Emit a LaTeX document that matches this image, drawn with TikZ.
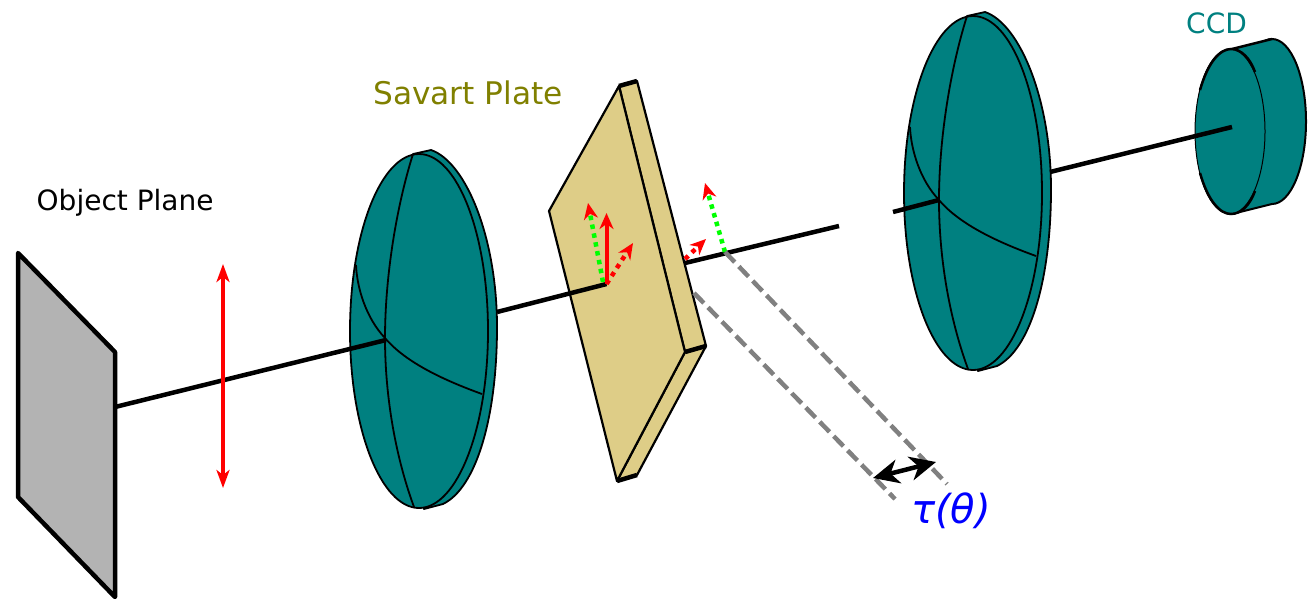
\documentclass[tikz,border=0pt]{standalone}
\usepackage{fontspec}
\setmainfont{DejaVu Sans}
\usetikzlibrary{arrows.meta}
\definecolor{tealc}{HTML}{008080}
\definecolor{olivec}{HTML}{808000}
\definecolor{platec}{HTML}{DECD87}
\definecolor{planec}{HTML}{B3B3B3}
\definecolor{grayc}{HTML}{808080}
\definecolor{greenc}{HTML}{00FF00}
\definecolor{bluec}{HTML}{0000FF}
\tikzset{
  lensbody/.style={fill=tealc,draw=black,line width=1.8pt,line join=round},
  lensline/.style={draw=black,line width=1.8pt},
  platebody/.style={fill=platec,draw=black,line width=2.2pt,line join=round},
  plateedge/.style={draw=black,line width=4.5pt},
  axisline/.style={draw=black,line width=4.5pt},
  redtip/.style={-{Stealth[length=16pt,width=14pt,inset=5pt,color=red]}},
  redray/.style={redtip,draw=red,line width=4pt},
  reddot/.style={redtip,draw=red,line width=4.5pt,dash pattern=on 4.5pt off 5pt},
  greendot/.style={redtip,draw=greenc,line width=4.5pt,dash pattern=on 4.5pt off 4.5pt},
  gapline/.style={draw=grayc,line width=4.5pt,dash pattern=on 14pt off 6pt},
  label/.style={inner sep=0pt,anchor=base west}
}
\newcommand{\lensdisc}[1]{%
  \begin{scope}[shift={#1}]
    \path[lensbody] (967,16) -- (985,12) .. controls (1020,24) and (1051,100) .. (1051,189) .. controls (1051,280) and (1030,350) .. (997,366) -- (978,371) -- cycle;
    \path[lensbody] (973,193) ellipse [x radius=69,y radius=177];
    \draw[lensline] (967,16) .. controls (950,70) and (939,140) .. (939,200) .. controls (939,260) and (950,320) .. (968,369);
    \draw[lensline] (910,127) .. controls (911,150) and (920,180) .. (939,200) .. controls (960,225) and (1000,243) .. (1036,256);
  \end{scope}}
\begin{document}
\begin{tikzpicture}[x=1pt,y=-1pt]
\useasboundingbox (0,0) rectangle (1313,598);
\coordinate (a0) at (115,407);
\coordinate (a1) at (386,340);
\coordinate (a2) at (497,312);
\coordinate (a3) at (606.5,284);
\coordinate (a4) at (685,263);
\coordinate (a5) at (839,226);
\coordinate (a6) at (893,212);
\coordinate (a7) at (939,200);
\coordinate (a8) at (1050,172);
\coordinate (a9) at (1232,127);

% object plane
\begin{scope}
\clip (0,0) rectangle (1313,598);
\path[fill=planec,draw=black,line width=4.5pt,line join=round] (18,253) -- (115,352) -- (115,597) -- (18,497) -- cycle;
\end{scope}

% first lens
\lensdisc{(-554,138)}
\draw[axisline] (a0) -- (a1);

% red double arrow
\coordinate (r1) at (223,264);
\coordinate (r2) at (223,488);
\draw[draw=red,line width=3.5pt,{Stealth[length=18pt,width=13pt,inset=5pt]}-{Stealth[length=18pt,width=13pt,inset=5pt]}] (r1) -- (r2);

% Savart plate
\path[platebody] (619,86) -- (637,81) -- (706,346) -- (637,475) -- (617,481) -- (685,352) -- cycle;
\path[platebody] (619,86) -- (549,211) -- (617,481) -- (685,352) -- cycle;
\draw[plateedge] (619,86) -- (637,81);
\draw[plateedge] (617,481) -- (637,475);
\draw[plateedge] (685,352) -- (706,346);

\draw[axisline] (a2) -- (a3);
\draw[axisline] (a4) -- (a5);

% rays on plate
\coordinate (g0) at (603,282);
\coordinate (g1) at (588,203);
\coordinate (s1) at (606.5,213);
\coordinate (d1) at (633,243);
\draw[reddot] (a3) -- (d1);
\draw[greendot] (g0) -- (g1);
\draw[redray] (a3) -- (s1);

% rays after plate
\coordinate (p0) at (685,259);
\coordinate (p1) at (706,239);
\coordinate (q0) at (725,252);
\coordinate (q1) at (705,183);
\coordinate (t0) at (694,293);
\coordinate (t1) at (895,499);
\coordinate (u1) at (947,484);
\draw[reddot] (p0) -- (p1);
\draw[greendot] (q0) -- (q1);
\draw[gapline] (q0) -- (u1);
\draw[gapline] (t0) -- (t1);

% separation arrow
\coordinate (w0) at (873,478);
\coordinate (w1) at (936,462);
\draw[draw=black,line width=4.5pt,{Stealth[length=26pt,width=24pt,inset=8pt]}-{Stealth[length=26pt,width=24pt,inset=8pt]}] (w0) -- (w1);

% second lens
\lensdisc{(0,0)}
\draw[axisline] (a6) -- (a7);

% CCD
\path[fill=tealc,draw=black,line width=2pt] (1272,121.5) ellipse [x radius=34,y radius=82.5];
\path[fill=tealc] (1232,49) -- (1272,39) -- (1272,204) -- (1232,214) -- cycle;
\draw[lensline,line width=2.5pt] (1232,49) -- (1272,39);
\draw[lensline,line width=2pt] (1232,214) -- (1272,204);
\draw[fill=tealc,draw=black,line width=1pt] (1230,131.5) ellipse [x radius=35,y radius=82.5];
\draw[draw=black,line width=2.5pt] (1200,90) .. controls (1208,62) and (1220,49) .. (1231,49) .. controls (1241,49) and (1250,58) .. (1255,72);
\draw[draw=black,line width=2.5pt] (1200,173) .. controls (1208,201) and (1220,214) .. (1231,214) .. controls (1241,214) and (1250,205) .. (1255,191);
\draw[axisline] (a8) -- (a9);

% labels
\node[label,font=\fontsize{28}{32}\selectfont] (objlabel) at (36.5,210) {Object Plane};
\node[label,font=\fontsize{31.2}{36}\selectfont,text=olivec] (savlabel) at (373,104) {Savart Plate};
\node[label,font=\fontsize{28}{32}\selectfont,text=tealc] (ccdlabel) at (1186,33) {CCD};
\node[label,font=\fontsize{40}{44}\selectfont\itshape,text=bluec] (taulabel) at (911,523) {τ(θ)};
\end{tikzpicture}
\end{document}
